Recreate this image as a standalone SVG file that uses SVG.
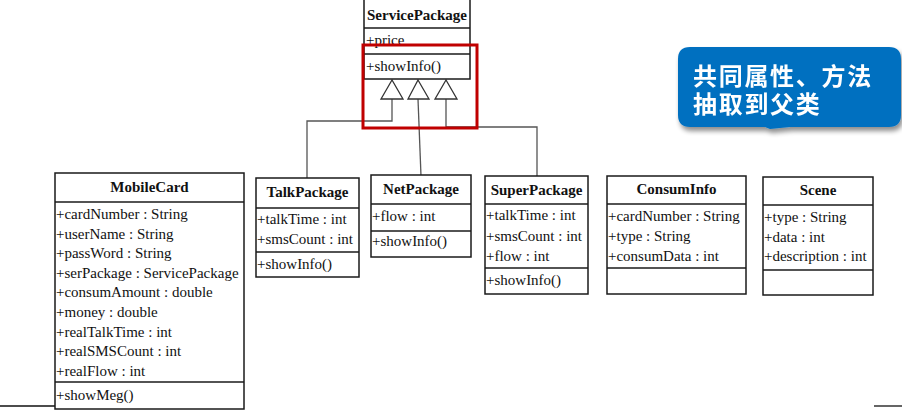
<svg xmlns="http://www.w3.org/2000/svg" width="902" height="413" viewBox="0 0 902 413">
<style>
.box{fill:#fff;stroke:#1a1a1a;stroke-width:1.5}
.div{stroke:#1a1a1a;stroke-width:1.5}
.t{font-family:"Liberation Serif","Times New Roman",serif;font-size:15px;fill:#111}
.h{font-family:"Liberation Serif","Times New Roman",serif;font-size:15px;font-weight:bold;fill:#111;text-anchor:middle}
.con{fill:none;stroke:#555;stroke-width:1.3}
.tri{fill:#fff;stroke:#333;stroke-width:1.3}
.cj{font-family:"Noto Sans CJK SC","Noto Sans",sans-serif;font-size:24px;letter-spacing:1.7px;font-weight:bold;fill:#fff}
</style>
<defs>
<filter id="sh" x="-20%" y="-20%" width="150%" height="160%">
<feGaussianBlur in="SourceAlpha" stdDeviation="2.5"/>
<feOffset dx="2" dy="4" result="b"/>
<feComponentTransfer><feFuncA type="linear" slope="0.45"/></feComponentTransfer>
<feMerge><feMergeNode/><feMergeNode in="SourceGraphic"/></feMerge>
</filter>
<marker id="ah" viewBox="0 0 10 10" refX="9" refY="5" markerWidth="5" markerHeight="5" orient="auto">
<path d="M0,1 L10,5 L0,9 z" fill="#1f3864"/>
</marker>
</defs>
<rect width="902" height="413" fill="#fff"/>

<g id="connectors">
<polyline class="con" points="392,99 392,121 307,121 307,180"/>
<polyline class="con" points="418,99 421,176"/>
<polyline class="con" points="446,99 446,127 537,127 537,176"/>
<path class="tri" d="M392,80 L381,99 L403,99 Z"/>
<path class="tri" d="M418,80 L408,99 L429,99 Z"/>
<path class="tri" d="M446,80 L435,99 L457,99 Z"/>
<line x1="0" y1="406" x2="55" y2="406" stroke="#111" stroke-width="1.3"/>
<line x1="874" y1="406" x2="902" y2="406" stroke="#111" stroke-width="1.3"/>
</g>

<g id="ServicePackage">
<rect class="box" x="364" y="-2" width="106" height="81"/>
<line class="div" x1="364" y1="28" x2="470" y2="28"/>
<line class="div" x1="364" y1="54" x2="470" y2="54"/>
<text class="h" x="417" y="20">ServicePackage</text>
<text class="t" x="366" y="45">+price</text>
<text class="t" x="366" y="71">+showInfo()</text>
</g>

<g id="highlight">
<rect x="363" y="45" width="114" height="83" fill="none" stroke="#c00000" stroke-width="3"/>
</g>

<g id="MobileCard">
<rect class="box" x="55" y="173" width="189" height="236"/>
<line class="div" x1="55" y1="202" x2="244" y2="202"/>
<line class="div" x1="55" y1="382" x2="244" y2="382"/>
<text class="h" x="149.500" y="192">MobileCard</text>
<text class="t" x="56" y="219">+cardNumber : String</text>
<text class="t" x="56" y="238.600">+userName : String</text>
<text class="t" x="56" y="258.200">+passWord : String</text>
<text class="t" x="56" y="277.800">+serPackage : ServicePackage</text>
<text class="t" x="56" y="297.400">+consumAmount : double</text>
<text class="t" x="56" y="317">+money : double</text>
<text class="t" x="56" y="336.600">+realTalkTime : int</text>
<text class="t" x="56" y="356.200">+realSMSCount : int</text>
<text class="t" x="56" y="375.800">+realFlow : int</text>
<text class="t" x="56" y="400">+showMeg()</text>
</g>

<g id="TalkPackage">
<rect class="box" x="256" y="178" width="103" height="99"/>
<line class="div" x1="256" y1="208" x2="359" y2="208"/>
<line class="div" x1="256" y1="252" x2="359" y2="252"/>
<text class="h" x="307.500" y="197">TalkPackage</text>
<text class="t" x="257" y="224">+talkTime : int</text>
<text class="t" x="257" y="244">+smsCount : int</text>
<text class="t" x="257" y="269">+showInfo()</text>
</g>

<g id="NetPackage">
<rect class="box" x="371" y="175" width="100" height="82"/>
<line class="div" x1="371" y1="204" x2="471" y2="204"/>
<line class="div" x1="371" y1="231" x2="471" y2="231"/>
<text class="h" x="421" y="194">NetPackage</text>
<text class="t" x="372" y="221">+flow : int</text>
<text class="t" x="372" y="246">+showInfo()</text>
</g>

<g id="SuperPackage">
<rect class="box" x="485" y="176" width="103" height="118"/>
<line class="div" x1="485" y1="204" x2="588" y2="204"/>
<line class="div" x1="485" y1="268" x2="588" y2="268"/>
<text class="h" x="536.500" y="195">SuperPackage</text>
<text class="t" x="486" y="220">+talkTime : int</text>
<text class="t" x="486" y="241">+smsCount : int</text>
<text class="t" x="486" y="261">+flow : int</text>
<text class="t" x="486" y="285">+showInfo()</text>
</g>

<g id="ConsumInfo">
<rect class="box" x="607" y="176" width="139" height="118"/>
<line class="div" x1="607" y1="204" x2="746" y2="204"/>
<line class="div" x1="607" y1="268" x2="746" y2="268"/>
<text class="h" x="676.500" y="194">ConsumInfo</text>
<text class="t" x="608" y="221">+cardNumber : String</text>
<text class="t" x="608" y="241">+type : String</text>
<text class="t" x="608" y="261">+consumData : int</text>
</g>

<g id="Scene">
<rect class="box" x="763" y="177" width="110" height="118"/>
<line class="div" x1="763" y1="205" x2="873" y2="205"/>
<line class="div" x1="763" y1="270" x2="873" y2="270"/>
<text class="h" x="818" y="195">Scene</text>
<text class="t" x="764" y="222">+type : String</text>
<text class="t" x="764" y="242">+data : int</text>
<text class="t" x="764" y="261">+description : int</text>
</g>

<g id="arrow" filter="url(#sh)">
<line x1="492" y1="94" x2="668" y2="94" stroke="#1f3864" stroke-width="2" marker-end="url(#ah)"/>
</g>

<g id="callout" filter="url(#sh)">
<path d="M690,47 H889 Q901,47 901,59 V115 Q901,127 889,127 H790 L770,129 L765,127 H690 Q678,127 678,115 V59 Q678,47 690,47 Z" fill="#0070c0"/>
<text class="cj"><tspan x="693" y="85">共同属性、方法</tspan><tspan x="693" y="113">抽取到父类</tspan></text>
</g>
</svg>
